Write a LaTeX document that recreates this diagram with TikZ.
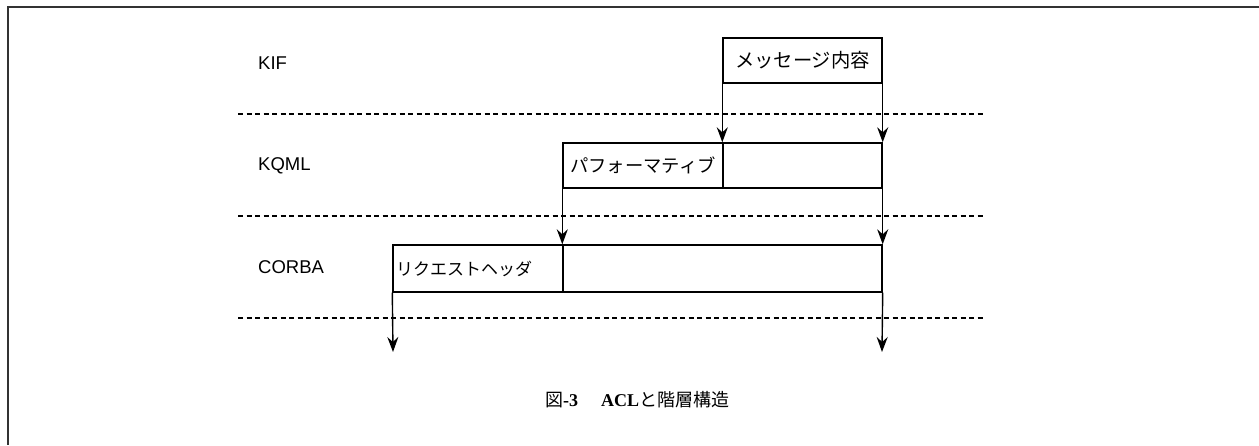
\documentclass[tikz,border=0pt]{standalone}
\usepackage{fontspec}
\setsansfont{Liberation Sans}
\newfontfamily\jpfont{Noto Sans CJK JP}
\newfontfamily\capserif{Liberation Serif}
\usetikzlibrary{arrows.meta}
\begin{document}
\begin{tikzpicture}[x=1pt,y=-1pt,
  layerlabel/.style={font=\sffamily\fontsize{18.5}{20}\selectfont, anchor=west, inner sep=0pt},
  cell/.style={draw, line width=1.4pt, inner sep=0pt, font=\jpfont\fontsize{19.3}{21}\selectfont, minimum height=45pt},
  sep/.style={line width=1.3pt, dash pattern=on 5pt off 3.5pt},
  flow/.style={line width=1.4pt, -{Stealth[length=15pt,width=11pt,inset=5pt]}},
  frameline/.style={line width=1.8pt, black!80}]
\useasboundingbox (0,0) rectangle (1259,445);
% frame
\coordinate (ftl) at (8,7);
\coordinate (ftr) at (1259,7);
\coordinate (fbl) at (8,445);
\draw[frameline] (ftr) -- (ftl) -- (fbl);
% layer labels
\node[layerlabel] (kif) at (258,63) {KIF};
\node[layerlabel] (kqml) at (258,166) {KQML};
\node[layerlabel] (corba) at (258,267) {CORBA};
% separators
\coordinate (s1a) at (238,114); \coordinate (s1b) at (983,114);
\coordinate (s2a) at (238,216); \coordinate (s2b) at (983,216);
\coordinate (s3a) at (238,318); \coordinate (s3b) at (983,318);
\draw[sep] (s1a) -- (s1b);
\draw[sep] (s2a) -- (s2b);
\draw[sep] (s3a) -- (s3b);
% boxes
\node[cell, minimum width=159pt] (msg) at (802.5,60.5) {メッセージ内容};
\node[cell, minimum width=160pt, font=\jpfont\fontsize{18.3}{20}\selectfont] (perf) at (643,165.5) {パフォーマティブ};
\node[cell, minimum width=159pt] (perfb) at (802.5,165.5) {};
\node[cell, minimum width=170pt, minimum height=47pt, text width=164pt, align=left, font=\jpfont\fontsize{17}{19}\selectfont] (req) at (478,268.5) {リクエストヘッダ};
\node[cell, minimum width=319pt, minimum height=47pt] (reqb) at (722.5,268.5) {};
% arrows
\coordinate (e1) at (393,352);
\coordinate (e2) at (882,352);
\draw[flow] (msg.south west) -- (perfb.north west);
\draw[flow] (msg.south east) -- (perfb.north east);
\draw[flow] (perf.south west) -- (reqb.north west);
\draw[flow] (perfb.south east) -- (reqb.north east);
\draw[flow] (req.south west) -- (e1);
\draw[flow] (reqb.south east) -- (e2);
% caption
\node[inner sep=0pt, anchor=west, font=\fontsize{18}{20}\selectfont] (cap) at (545,400) {{\jpfont 図}{\capserif\bfseries -3}\hspace{23pt}{\capserif\bfseries ACL}{\jpfont と階層構造}};
\end{tikzpicture}
\end{document}
